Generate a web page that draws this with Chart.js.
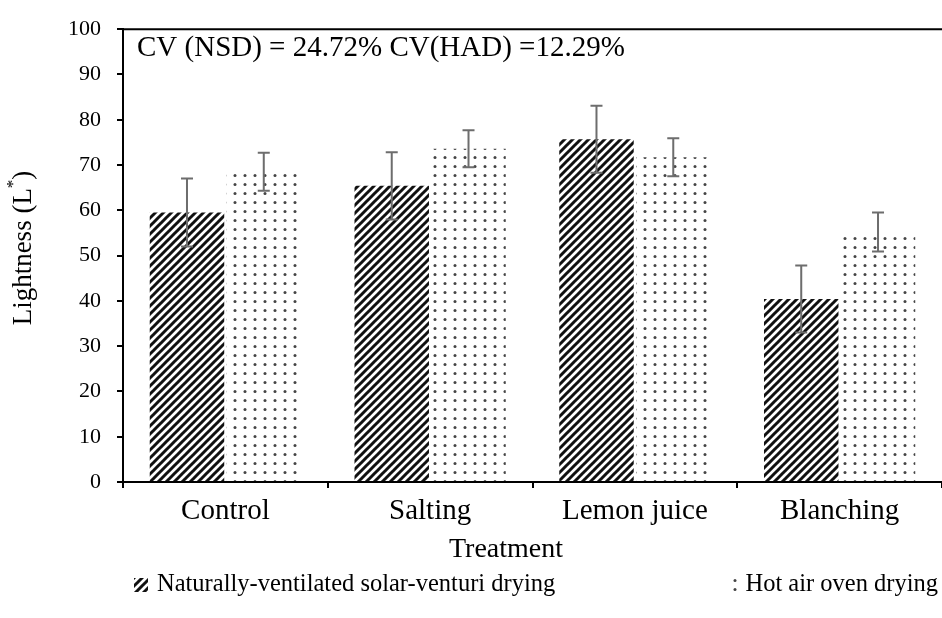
<!DOCTYPE html>
<html>
<head>
<meta charset="utf-8">
<script src="https://cdn.jsdelivr.net/npm/chart.js@4.4.1/dist/chart.umd.min.js"></script>
<style>
  html, body { margin: 0; padding: 0; background: #fff; }
  #wrap { width: 942px; height: 618px; }
</style>
</head>
<body>
<div id="wrap"><canvas id="chart" width="942" height="618"></canvas></div>
<script>
// ---------- DATA ----------
const treatments = ["Control", "Salting", "Lemon juice", "Blanching"];
const nsdValues = [59.5, 65.4, 75.7, 40.4];
const nsdErrors = [7.5, 7.4, 7.4, 7.4];
const hadValues = [68.5, 73.6, 71.7, 55.2];
const hadErrors = [4.2, 4.1, 4.2, 4.3];
const yTicks = [0, 10, 20, 30, 40, 50, 60, 70, 80, 90, 100];
const cvNote = "CV (NSD) = 24.72% CV(HAD) =12.29%";
const xTitle = "Treatment";

const serif = "'Liberation Serif', 'Times New Roman', serif";

// ---------- PATTERNS ----------
function hatchPattern() {
  const s = 8;
  const c = document.createElement("canvas");
  c.width = s; c.height = s;
  const g = c.getContext("2d");
  g.fillStyle = "#fff";
  g.fillRect(0, 0, s, s);
  g.strokeStyle = "#111";
  g.lineWidth = 3;
  g.beginPath();
  g.moveTo(-1, 1); g.lineTo(1, -1);
  g.moveTo(0, s); g.lineTo(s, 0);
  g.moveTo(s - 1, s + 1); g.lineTo(s + 1, s - 1);
  g.stroke();
  return g.createPattern(c, "repeat");
}

function dotPattern() {
  const c = document.createElement("canvas");
  c.width = 10; c.height = 9;
  const g = c.getContext("2d");
  g.fillStyle = "#fff";
  g.fillRect(0, 0, 10, 9);
  g.fillStyle = "#444";
  g.beginPath();
  g.arc(5, 4.5, 1.5, 0, Math.PI * 2);
  g.fill();
  return g.createPattern(c, "repeat");
}

const errorMap = [nsdErrors, hadErrors];

// error bars, top border, note text, axis titles and legend
const extras = {
  id: "extras",
  afterDatasetsDraw(chart) {
    const ctx = chart.ctx;
    const y = chart.scales.y;
    ctx.save();
    ctx.strokeStyle = "#6d6d6d";
    ctx.lineWidth = 2;
    chart.data.datasets.forEach((ds, di) => {
      const meta = chart.getDatasetMeta(di);
      meta.data.forEach((bar, i) => {
        const v = ds.data[i];
        const e = errorMap[di][i];
        const top = y.getPixelForValue(v + e);
        const bot = y.getPixelForValue(v - e);
        ctx.beginPath();
        ctx.moveTo(bar.x, top); ctx.lineTo(bar.x, bot);
        ctx.moveTo(bar.x - 6, top); ctx.lineTo(bar.x + 6, top);
        ctx.moveTo(bar.x - 6, bot); ctx.lineTo(bar.x + 6, bot);
        ctx.stroke();
      });
    });
    ctx.restore();
  },
  afterDraw(chart) {
    const ctx = chart.ctx;
    const a = chart.chartArea;
    ctx.save();
    // top border of plot area
    ctx.strokeStyle = "#000";
    ctx.lineWidth = 2;
    ctx.beginPath();
    ctx.moveTo(a.left - 1, a.top);
    ctx.lineTo(a.right, a.top);
    ctx.stroke();

    // CV note
    ctx.fillStyle = "#000";
    ctx.font = "29px " + serif;
    ctx.textBaseline = "middle";
    ctx.textAlign = "left";
    ctx.fillText(cvNote, a.left + 14, 48);

    // x axis title
    ctx.font = "28px " + serif;
    ctx.textAlign = "center";
    ctx.fillText(xTitle, 506, 550);
    ctx.textAlign = "left";

    // y axis title with superscript
    ctx.translate(24, 248);
    ctx.rotate(-Math.PI / 2);
    const p1 = "Lightness (L";
    const p2 = ")";
    ctx.font = "27px " + serif;
    const w1 = ctx.measureText(p1).width;
    ctx.font = "17px " + serif;
    const ws = ctx.measureText("*").width;
    ctx.font = "27px " + serif;
    const w2 = ctx.measureText(p2).width;
    const x0 = -(w1 + ws + w2) / 2;
    ctx.fillText(p1, x0, 0);
    ctx.font = "17px " + serif;
    ctx.fillText("*", x0 + w1, -10);
    ctx.font = "27px " + serif;
    ctx.fillText(p2, x0 + w1 + ws, 0);
    ctx.setTransform(1, 0, 0, 1, 0, 0);

    // legend
    const ly = 585;
    ctx.font = "24.5px " + serif;
    const ds = chart.data.datasets;
    ctx.fillStyle = ds[0].backgroundColor;
    ctx.fillRect(134, ly - 7, 14, 14);
    ctx.fillStyle = "#000";
    ctx.fillText(ds[0].label, 157, ly);
    const w = ctx.measureText(ds[1].label).width;
    const tx = 938 - w;
    ctx.fillStyle = ds[1].backgroundColor;
    ctx.fillRect(tx - 18, ly - 7, 12, 14);
    ctx.fillStyle = "#000";
    ctx.fillText(ds[1].label, tx, ly);
    ctx.restore();
  }
};

new Chart(document.getElementById("chart"), {
  type: "bar",
  data: {
    labels: treatments,
    datasets: [
      {
        label: "Naturally-ventilated solar-venturi drying",
        data: nsdValues,
        backgroundColor: hatchPattern(),
        borderWidth: 0,
        categoryPercentage: 0.75,
        barPercentage: 0.97
      },
      {
        label: "Hot air oven drying",
        data: hadValues,
        backgroundColor: dotPattern(),
        borderWidth: 0,
        categoryPercentage: 0.75,
        barPercentage: 0.97
      }
    ]
  },
  plugins: [extras],
  options: {
    responsive: false,
    animation: false,
    layout: { padding: { top: 24, right: -11, bottom: 46, left: 0 } },
    plugins: {
      legend: { display: false },
      tooltip: { enabled: false }
    },
    scales: {
      x: {
        afterFit(scale) { scale.height = 90; },
        grid: {
          offset: true,
          drawOnChartArea: false,
          color: "#000",
          lineWidth: 2,
          tickLength: 6
        },
        border: { color: "#000", width: 2 },
        ticks: {
          color: "#000",
          padding: 6,
          font: { family: serif, size: 29 }
        }
      },
      y: {
        min: 0,
        max: 100,
        afterFit(scale) { scale.width = 123; },
        afterBuildTicks(scale) { scale.ticks = yTicks.map(v => ({ value: v })); },
        grid: {
          drawOnChartArea: false,
          color: "#000",
          lineWidth: 2,
          tickLength: 6
        },
        border: { color: "#000", width: 2 },
        ticks: {
          color: "#000",
          padding: 16,
          font: { family: serif, size: 22 }
        }
      }
    }
  }
});
</script>
</body>
</html>
